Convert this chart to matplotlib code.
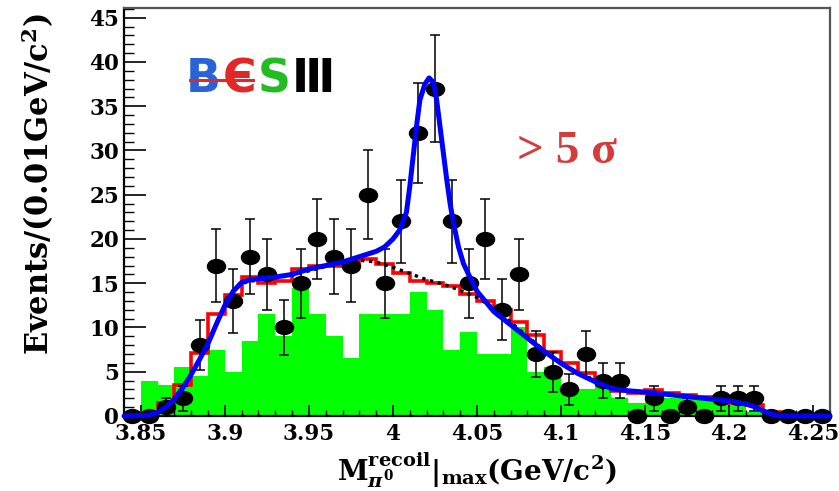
import numpy as np
import matplotlib
matplotlib.use("Agg")
import matplotlib.pyplot as plt
from matplotlib.ticker import MultipleLocator
from matplotlib.markers import MarkerStyle
from matplotlib.transforms import Affine2D

plt.rcParams['mathtext.fontset'] = 'custom'
plt.rcParams['mathtext.rm'] = 'DejaVu Serif:bold'
plt.rcParams['mathtext.it'] = 'DejaVu Serif:bold:italic'
plt.rcParams['mathtext.bf'] = 'DejaVu Serif:bold'

# ---------------- data ----------------
x_lo, x_hi, bin_w = 3.84, 4.26, 0.01

# observed events per 0.01 GeV bin (bin centres 3.845 ... 4.255)
data_counts = [0, 0, 1, 2, 8, 17, 13, 18, 16, 10,
               15, 20, 18, 17, 25, 15, 22, 32, 37, 22,
               15, 20, 12, 16, 7, 5, 3, 7, 4, 4,
               0, 2, 0, 1, 0, 2, 2, 2, 0, 0,
               0, 0]

# green filled histogram (bins 3.84 ... 4.25)
green_counts = [0, 4, 3.5, 5.5, 4.5, 7.5, 5, 8.5, 11.5, 9,
                14.5, 11.5, 9, 6.5, 11.5, 11.5, 11.5, 14, 12, 7.5,
                9.5, 7, 7, 10, 5, 5.5, 3.5, 3, 3.5, 2,
                1.5, 2.5, 2, 2.5, 2, 2, 1.5, 0.5, 0, 0,
                0, 0]

# red outline histogram
red_counts = [0, 0.3, 1.5, 3.5, 7.1, 11.5, 13.7, 15.75, 15.0, 15.3,
              16.6, 16.9, 17.0, 17.1, 17.7, 17.2, 16.2, 15.2, 15.0, 14.7,
              13.8, 13.0, 12.0, 10.6, 9.2, 7.2, 6.0, 4.9, 3.9, 2.8,
              2.6, 2.9, 2.6, 2.4, 2.1, 1.9, 1.5, 1.2, 0.5, 0,
              0, 0]

# total fit (blue curve), sampled
fit_x = [3.84, 3.85, 3.855, 3.86, 3.865, 3.87, 3.875, 3.88, 3.885, 3.89,
         3.895, 3.90, 3.905, 3.91, 3.915, 3.92, 3.93, 3.94, 3.95, 3.96,
         3.97, 3.98, 3.99, 3.995, 4.00, 4.004, 4.008, 4.010, 4.012, 4.014,
         4.016, 4.019, 4.0215, 4.024, 4.026, 4.028, 4.030, 4.032, 4.034, 4.036,
         4.039, 4.042, 4.046, 4.05, 4.06, 4.07, 4.08, 4.09, 4.10, 4.11,
         4.12, 4.13, 4.14, 4.15, 4.16, 4.17, 4.18, 4.19, 4.20, 4.21,
         4.215, 4.22, 4.225, 4.23, 4.26]
fit_y = [0.0, 0.05, 0.1, 0.4, 1.0, 1.9, 3.2, 4.7, 6.4, 8.2,
         10.4, 12.5, 14.1, 15.1, 15.4, 15.5, 15.7, 16.0, 16.6, 17.0,
         17.4, 18.0, 18.6, 19.1, 20.0, 21.0, 23.0, 25.9, 29.3, 32.7,
         35.7, 37.5, 38.2, 37.7, 35.7, 32.7, 29.7, 26.7, 24.0, 21.8,
         19.1, 17.2, 15.6, 14.1, 11.8, 10.3, 8.8, 7.3, 5.95, 4.8,
         3.9, 3.1, 2.85, 2.7, 2.5, 2.3, 2.1, 1.9, 1.7, 1.35,
         1.05, 0.6, 0.2, 0.02, 0.0]

# background component (black dotted), sampled
bkg_x = [3.84, 3.85, 3.86, 3.865, 3.87, 3.875, 3.88, 3.885, 3.89, 3.895,
         3.90, 3.905, 3.91, 3.92, 3.93, 3.94, 3.95, 3.96, 3.97, 3.98,
         3.99, 4.00, 4.01, 4.02, 4.03, 4.04, 4.05, 4.06, 4.07, 4.08,
         4.09, 4.10, 4.11, 4.12, 4.13, 4.14, 4.15, 4.16, 4.17, 4.18,
         4.19, 4.20, 4.21, 4.22, 4.23, 4.26]
bkg_y = [0.0, 0.05, 0.4, 1.0, 1.9, 3.2, 4.7, 6.4, 8.2, 10.4,
         12.5, 14.0, 15.0, 15.4, 15.6, 15.9, 16.4, 16.9, 17.3, 17.6,
         17.4, 16.8, 16.1, 15.4, 14.9, 14.2, 13.4, 12.2, 10.6, 9.0,
         7.4, 6.0, 4.8, 3.9, 3.1, 2.85, 2.7, 2.5, 2.3, 2.1,
         1.9, 1.7, 1.35, 0.6, 0.02, 0.0]

x_ticks = [3.85, 3.9, 3.95, 4.0, 4.05, 4.1, 4.15, 4.2, 4.25]
x_ticklabels = ['3.85', '3.9', '3.95', '4', '4.05', '4.1', '4.15', '4.2', '4.25']
y_ticks = [0, 5, 10, 15, 20, 25, 30, 35, 40, 45]
y_max = 46.1

# ---------------- figure ----------------
W, H = 839, 491
fig = plt.figure(figsize=(W / 100, H / 100), dpi=100)
ax = fig.add_axes([124 / W, 75 / H, 706 / W, 408 / H])

n_bins = len(data_counts)
edges = np.round(x_lo + bin_w * np.arange(n_bins + 1), 4)
centers = 0.5 * (edges[:-1] + edges[1:])
data_counts = np.array(data_counts, dtype=float)
data_err = np.sqrt(data_counts)

ax.stairs(green_counts, edges, fill=True, color='#00ff00', lw=0, zorder=1)
ax.stairs(red_counts, edges, color='#ff0000', lw=2.6, zorder=2)
ax.plot(bkg_x, bkg_y, color='black', lw=2.4, ls=(0, (1, 1.4)), zorder=3)

ax.errorbar(centers, data_counts, yerr=data_err, fmt='none', ecolor='black',
            elinewidth=1.1, capsize=3.5, capthick=1.1, zorder=4)
mk = MarkerStyle('o', transform=Affine2D().scale(1.3, 1.0))
ax.plot(centers, data_counts, ls='none', marker=mk, ms=10, color='black',
        zorder=4, clip_on=False)
ax.plot(fit_x, fit_y, color='#0000ff', lw=3.6, zorder=5,
        solid_capstyle='round', solid_joinstyle='round', clip_on=False)

ax.set_xlim(x_lo, x_hi)
ax.set_ylim(0, y_max)

ax.set_xticks(x_ticks, x_ticklabels)
ax.xaxis.set_minor_locator(MultipleLocator(0.01))
ax.set_yticks(y_ticks, [str(v) for v in y_ticks])
ax.yaxis.set_minor_locator(MultipleLocator(1))

for lab in ax.get_xticklabels() + ax.get_yticklabels():
    lab.set_fontfamily('DejaVu Serif')
    lab.set_fontweight('bold')
    lab.set_fontsize(15.5)

ax.tick_params(which='both', direction='in', top=False, right=False, color='black')
ax.tick_params(axis='x', which='major', length=8, width=1.2, pad=5)
ax.tick_params(axis='x', which='minor', length=4, width=1.0)
ax.tick_params(axis='y', which='major', length=16, width=1.2, pad=3.5)
ax.tick_params(axis='y', which='minor', length=7.5, width=1.0)

for s in ('left', 'bottom'):
    ax.spines[s].set_color('black')
    ax.spines[s].set_linewidth(1.6)
for s in ('top', 'right'):
    ax.spines[s].set_color('#555555')
    ax.spines[s].set_linewidth(1.6)

ax.set_ylabel('Events/(0.01GeV/c$^{2}$)', fontsize=22, fontweight='bold',
              family='DejaVu Serif')
ax.yaxis.set_label_coords((38 - 124) / 706, (416 - 184) / 408)
ax.yaxis.label.set_verticalalignment('center')

ax.set_xlabel(r'$\mathrm{M}_{\pi^{0}}^{\mathrm{recoil}}|_{\mathrm{max}}\mathrm{(GeV/c^{2})}$',
              fontsize=20)
ax.xaxis.set_label_coords(0.5, (1 - 75) / 408)
ax.xaxis.label.set_verticalalignment('bottom')

# significance annotation
ax.text(4.074, 28.6, '> 5 σ', family='Liberation Serif', fontweight='bold',
        fontsize=34, color='#d43c3c', ha='left', va='baseline')

# BESIII logo: letters laid out side by side without overlap
logo_y = 1 - 80 / H
logo_letters = [('B', '#2a62d8'), ('Є', '#e02828'), ('S', '#22bb22'), ('Ⅲ', 'black')]
renderer = fig.canvas.get_renderer()
cur_px = 186.0
logo_boxes = []
for ch, col in logo_letters:
    t = fig.text(cur_px / W, logo_y, ch, color=col, fontsize=33, fontweight='bold',
                 family=['DejaVu Sans'], ha='left', va='center')
    bb = t.get_window_extent(renderer=renderer)
    logo_boxes.append(bb)
    cur_px = bb.x1 + 1.5
bar_x0 = logo_boxes[0].x0 + 4
bar_x1 = logo_boxes[1].x1 - 3
bar_y = 0.5 * (logo_boxes[0].y0 + logo_boxes[0].y1) / H
fig.add_artist(plt.Line2D([bar_x0 / W, bar_x1 / W], [bar_y, bar_y],
                          color='#e02828', lw=2.2, zorder=10))

fig.savefig('out.png', dpi=100)
